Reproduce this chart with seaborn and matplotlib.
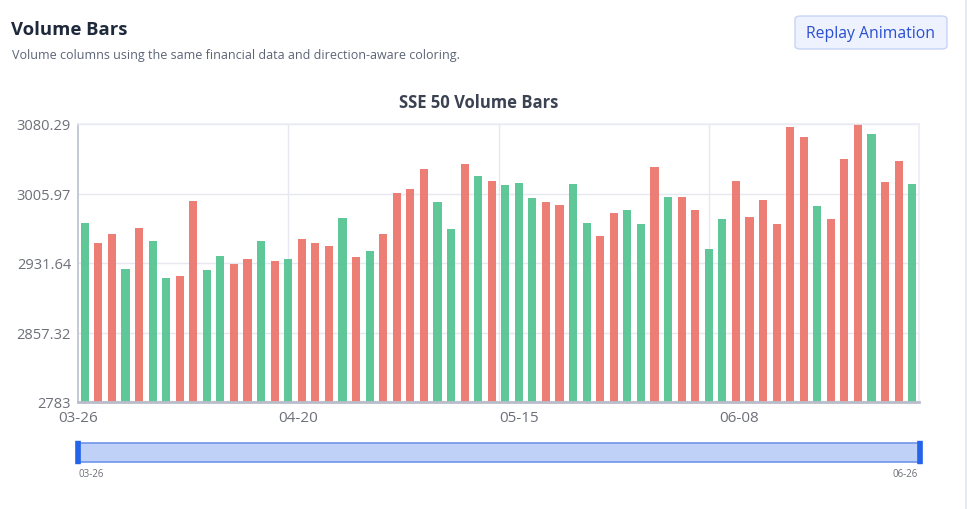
import matplotlib
matplotlib.use('Agg')
import numpy as np
import pandas as pd
import matplotlib.pyplot as plt
from matplotlib.patches import FancyBboxPatch, Rectangle
import seaborn as sns

sns.set_style('white')
plt.rcParams['font.family'] = ['Open Sans', 'DejaVu Sans']

# ---------------------------------------------------------------
# Data
# ---------------------------------------------------------------
volumes = [2974.3, 2953.2, 2962.5, 2925.0, 2968.6, 2954.7, 2915.4, 2917.6, 2997.9, 2924.3,
           2938.6, 2931.1, 2935.8, 2955.7, 2933.3, 2935.8, 2957.5, 2952.5, 2949.3, 2979.3,
           2938.3, 2944.0, 2962.2, 3006.8, 3010.3, 3031.8, 2996.4, 2967.9, 3037.1, 3025.0,
           3018.9, 3014.6, 3017.1, 3001.4, 2996.4, 2993.6, 3016.1, 2974.7, 2960.4, 2984.6,
           2988.2, 2973.2, 3033.9, 3001.8, 3002.5, 2987.9, 2946.1, 2978.2, 3019.3, 2980.7,
           2998.9, 2972.9, 3076.7, 3066.7, 2992.5, 2978.6, 3042.8, 3080.29, 3069.2, 3018.2,
           3040.7, 3016.4]
directions = list('DUUDUDDUUDDUUDUDUUUDUDUUUUDDUDUDDDUUDDUUDDUDUUDDUUUUUUDUUUDUUD')
direction_names = {'U': 'up', 'D': 'down'}

x_labels = ['03-26', '04-20', '05-15', '06-08']
x_label_step = 16.25            # categories between axis labels
range_labels = ['03-26', '06-26']

y_min, y_max = 2783, 3080.29

UP_COLOR = '#ec7a72'
DOWN_COLOR = '#5bc596'

df = pd.DataFrame({'idx': np.arange(len(volumes)),
                   'volume': volumes,
                   'dir': [direction_names[d] for d in directions]})

# ---------------------------------------------------------------
# Figure / layout
# ---------------------------------------------------------------
W, H = 967, 510
fig = plt.figure(figsize=(W / 100, H / 100), dpi=100)

def fx(px):
    return px / W

def fy(py):
    return 1 - py / H

# header
fig.text(fx(11), fy(30), 'Volume Bars', fontsize=13.3, weight='bold', color='#1e293b', va='center')
fig.text(fx(12), fy(56), 'Volume columns using the same financial data and direction-aware coloring.',
         fontsize=9, color='#5b6477', va='center')

btn = FancyBboxPatch((fx(795), fy(50)), fx(947) - fx(795), fy(17) - fy(50),
                     boxstyle='round,pad=0,rounding_size=0.006', transform=fig.transFigure,
                     facecolor='#edf2fe', edgecolor='#c6d4f6', linewidth=1)
fig.patches.append(btn)
fig.text(fx(871), fy(34), 'Replay Animation', fontsize=11.3, color='#2b4fd0', ha='center', va='center')

# card right border
fig.add_artist(plt.Line2D([fx(966), fx(966)], [0, 1], transform=fig.transFigure,
                          color='#e2e6ef', linewidth=1.2))

# ---------------------------------------------------------------
# Main bar chart
# ---------------------------------------------------------------
ax = fig.add_axes([fx(78), fy(403), fx(919) - fx(78), fy(125) - fy(403)])

sns.barplot(data=df, x='idx', y='volume', hue='dir', dodge=False, width=0.6,
            palette={'up': UP_COLOR, 'down': DOWN_COLOR}, saturation=1, legend=False,
            linewidth=0, alpha=0.97, ax=ax)

n = len(volumes)
ax.set_xlim(-0.5, n - 0.5)
ax.set_ylim(y_min, y_max)

yticks = np.linspace(y_min, y_max, 5)
ax.set_yticks(yticks)
ax.set_yticklabels(['%g' % round(v, 2) for v in yticks])

ax.set_xticks([-0.5 + x_label_step * i for i in range(len(x_labels))])
ax.set_xticklabels(x_labels)
ax.set_xticks([-0.5 + n / 4 * i for i in range(1, 4)], minor=True)

ax.grid(axis='y', which='major', color='#e6e8f0', linewidth=1)
ax.grid(axis='x', which='minor', color='#e6e8f0', linewidth=1)
ax.set_axisbelow(True)

ax.tick_params(axis='both', which='both', length=0, labelsize=10.5, colors='#6e7079')
ax.tick_params(axis='x', labelsize=11)
ax.tick_params(axis='y', pad=5)
ax.tick_params(axis='x', pad=6)
ax.set_xlabel('')
ax.set_ylabel('')

ax.spines['left'].set_color('#c5c9d6')
ax.spines['left'].set_linewidth(1.4)
ax.spines['bottom'].set_color('#b9bdca')
ax.spines['bottom'].set_linewidth(2)
ax.spines['top'].set_color('#eceef4')
ax.spines['right'].set_color('#eceef4')
ax.spines['top'].set_linewidth(1.2)
ax.spines['right'].set_linewidth(1.2)

fig.text(fx(479), fy(103), 'SSE 50 Volume Bars', fontsize=12, weight='bold', color='#3b4252',
         ha='center', va='center')

# ---------------------------------------------------------------
# Range slider (dataZoom look)
# ---------------------------------------------------------------
sx = fig.add_axes([fx(78), fy(463), fx(920) - fx(78), fy(444) - fy(463)])
sx.set_xlim(0, 1)
sx.set_ylim(0, 1)
sx.axis('off')
sx.add_patch(Rectangle((0, 0), 1, 1, facecolor='#bfd1f6', edgecolor='#6e96ea', linewidth=1.2,
                       clip_on=False))
for hx in (0, 1):
    sx.add_patch(FancyBboxPatch((hx - 0.0025, -0.08), 0.005, 1.16,
                                boxstyle='round,pad=0,rounding_size=0.002',
                                facecolor='#2563eb', edgecolor='#2563eb', clip_on=False))
fig.text(fx(91), fy(475), range_labels[0], fontsize=7, color='#6e7079', ha='center', va='center')
fig.text(fx(905), fy(475), range_labels[1], fontsize=7, color='#6e7079', ha='center', va='center')

fig.savefig('out.png', dpi=100, facecolor='white')
